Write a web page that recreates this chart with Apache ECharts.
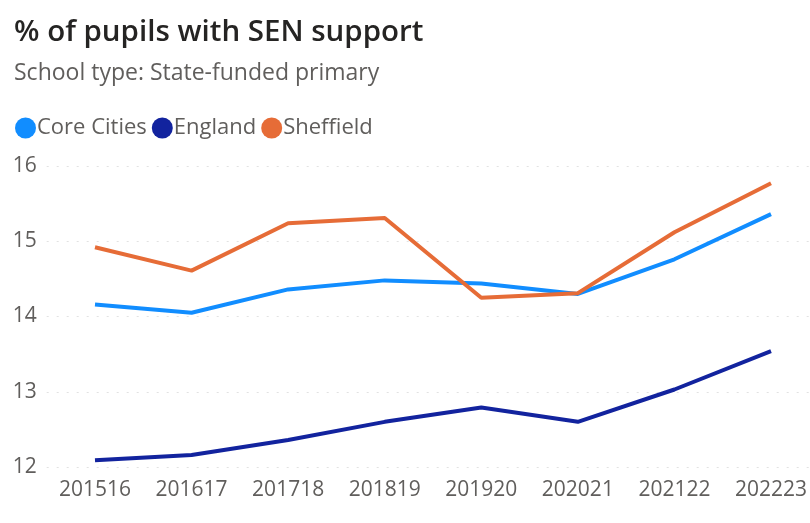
<!DOCTYPE html>
<html><head><meta charset="utf-8">
<script src="https://cdn.jsdelivr.net/npm/echarts@6/dist/echarts.min.js"></script>
<style>html,body{margin:0;padding:0;background:#fff;overflow:hidden}#c{width:820px;height:523px}</style>
</head><body><div id="c"></div>
<script>
const categories = ['201516','201617','201718','201819','201920','202021','202122','202223'];
const coreCities = [14.16, 14.05, 14.36, 14.48, 14.44, 14.30, 14.76, 15.36];
const england = [12.09, 12.16, 12.36, 12.60, 12.79, 12.60, 13.03, 13.54];
const sheffield = [14.92, 14.61, 15.24, 15.31, 14.25, 14.31, 15.12, 15.77];
const yTicks = [12, 13, 14, 15, 16];

const font = '"Open Sans", "Noto Sans", sans-serif';
const chart = echarts.init(document.getElementById('c'));
function line(name, data, color) {
  return { name, type: 'line', data, symbol: 'none', lineStyle: { width: 4, color }, itemStyle: { color } };
}
chart.setOption({
  animation: false,
  title: {
    text: '% of pupils with SEN support',
    subtext: 'School type: State-funded primary',
    left: 9, top: 13,
    textStyle: { fontFamily: font, fontSize: 29.5, fontWeight: 600, color: '#252423' },
    subtextStyle: { fontFamily: font, fontSize: 23, color: '#605E5C' },
    itemGap: 14
  },
  legend: {
    left: 10, top: 112, icon: 'circle', itemWidth: 21, itemHeight: 21, itemGap: 5,
    textStyle: { fontFamily: font, fontSize: 22, color: '#605E5C', padding: [0, 0, 0, -4] },
    data: ['Core Cities', 'England', 'Sheffield']
  },
  grid: { left: 46.7, width: 772.6, top: 166, bottom: 56 },
  xAxis: {
    type: 'category', data: categories, boundaryGap: true,
    axisLine: { show: false }, axisTick: { show: false },
    axisLabel: { fontFamily: font, fontSize: 21, color: '#605E5C', margin: 13 }
  },
  yAxis: {
    type: 'value', min: yTicks[0], max: yTicks[yTicks.length - 1], interval: 1,
    axisLine: { show: false }, axisTick: { show: false },
    axisLabel: { fontFamily: font, fontSize: 21, color: '#605E5C', align: 'left', margin: 34 },
    splitLine: { lineStyle: { type: [2, 8], color: '#e2e2e2', width: 1 } }
  },
  series: [
    line('Core Cities', coreCities, '#118DFF'),
    line('England', england, '#12239E'),
    line('Sheffield', sheffield, '#E66C37')
  ]
});
</script></body></html>
